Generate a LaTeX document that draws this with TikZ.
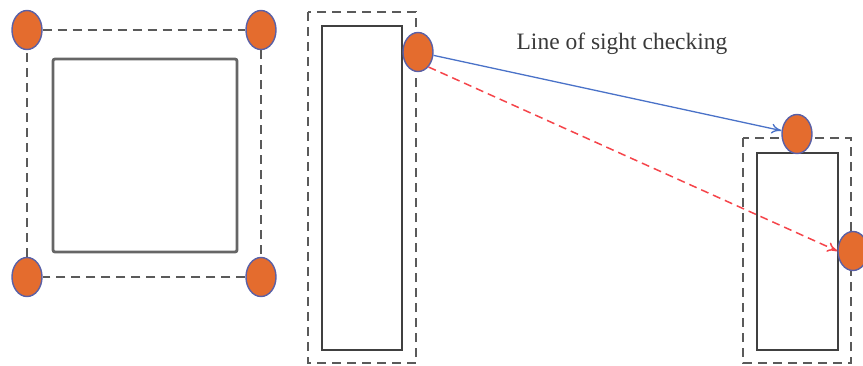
\documentclass[tikz,border=0pt]{standalone}
\usepackage{fontspec}
\setmainfont{Liberation Serif}
\usetikzlibrary{arrows.meta,shapes.geometric}
\definecolor{dotfill}{HTML}{E46C2E}
\definecolor{dotline}{HTML}{5A60A6}
\definecolor{dashgray}{HTML}{5A5A5A}
\definecolor{boxgray}{HTML}{666666}
\definecolor{boxdark}{HTML}{404040}
\definecolor{losblue}{HTML}{4A72C8}
\definecolor{losred}{HTML}{F5444A}
\definecolor{txt}{HTML}{3A3A3A}
\tikzset{
  corner/.style={ellipse, draw=dotline, line width=1.4pt, fill=dotfill, minimum width=30pt, minimum height=39pt, inner sep=0pt},
  bound/.style={draw=dashgray, line width=2.4pt, dash pattern=on 9pt off 6pt},
  objbox/.style={draw=boxdark, line width=2pt},
  objboxl/.style={draw=boxgray, line width=2.8pt, rounded corners=2pt},
  losok/.style={draw=losblue, line width=1.3pt, -{To[length=10pt,width=10pt]}},
  losbad/.style={draw=losred, line width=1.5pt, dash pattern=on 8pt off 5pt, -{To[length=10pt,width=10pt]}},
}
\begin{document}
\begin{tikzpicture}[x=1pt,y=-1pt]
\useasboundingbox (0,0) rectangle (863,365);
\clip (0,0) rectangle (863,365);
% left object
\draw[objboxl] (53,59) rectangle (237,252);
\node[corner] (tl) at (27,30) {};
\node[corner] (tr) at (261,30) {};
\node[corner] (bl) at (27,277) {};
\node[corner] (br) at (261,277) {};
\draw[bound] (tl) -- (tr);
\draw[bound] (tr) -- (br);
\draw[bound] (br) -- (bl);
\draw[bound] (bl) -- (tl);
% middle object
\draw[bound] (308,12) rectangle (416,363);
\draw[objbox] (322,26) rectangle (402,350);
\node[corner] (m) at (418,52) {};
% right object
\draw[bound] (743,138) rectangle (851,363);
\draw[objbox] (757,153) rectangle (838,350);
\node[corner] (t) at (797,134) {};
\node[corner] (r) at (853,251) {};
% line of sight
\draw[losok] (m) -- (t);
\draw[losbad] (m.-55) -- (r.west);
\node[text=txt, font=\fontsize{23.5}{28}\selectfont] (lbl) at (622,44) {Line of sight checking};
\end{tikzpicture}
\end{document}
